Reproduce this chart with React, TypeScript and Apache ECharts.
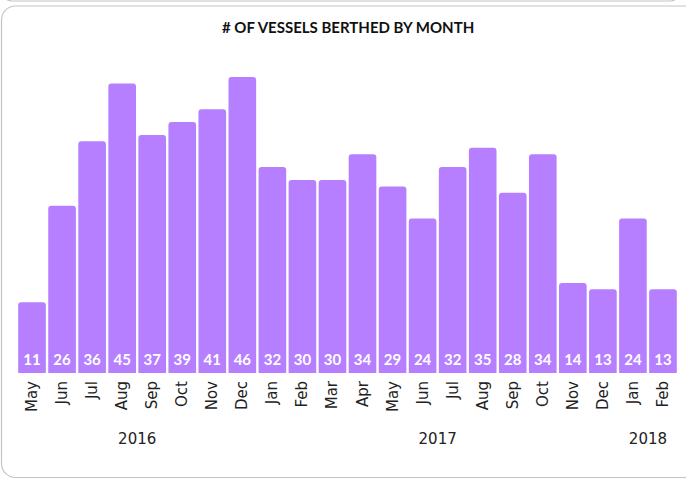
import React, { useEffect, useRef } from "react";
import * as echarts from "echarts";

const months = [
  "May", "Jun", "Jul", "Aug", "Sep", "Oct", "Nov", "Dec",
  "Jan", "Feb", "Mar", "Apr", "May", "Jun", "Jul", "Aug", "Sep", "Oct", "Nov", "Dec",
  "Jan", "Feb",
];
const vessels = [11, 26, 36, 45, 37, 39, 41, 46, 32, 30, 30, 34, 29, 24, 32, 35, 28, 34, 14, 13, 24, 13];
const years = ["2016", "2017", "2018"];
const monthsPerYear = [8, 12, 2];
const title = "# OF VESSELS BERTHED BY MONTH";

export default function App() {
  const ref = useRef<HTMLDivElement>(null);
  useEffect(() => {
    document.body.style.margin = "0";
    if (!ref.current) return;
    const chart = echarts.init(ref.current, null, { renderer: "svg" });

    const yearCenters: number[] = [];
    let start = 0;
    monthsPerYear.forEach((n) => {
      yearCenters.push(start + (n - 1) / 2);
      start += n;
    });
    const font = "Lato, 'Open Sans', sans-serif";
    const axisFont = "'DejaVu Sans', sans-serif";

    chart.setOption({
      animation: false,
      backgroundColor: "#ffffff",
      title: {
        text: title,
        left: 217,
        top: 14,
        textStyle: { fontSize: 15, fontWeight: "bold", color: "#111", fontFamily: font },
      },
      graphic: [
        {
          type: "rect",
          shape: { x: 2, y: -30, width: 678, height: 31, r: 10 },
          style: { fill: "none", stroke: "#c4c4c4", lineWidth: 1.2 },
        },
        {
          type: "rect",
          shape: { x: 1.5, y: 6, width: 700, height: 471.5, r: 14 },
          style: { fill: "none", stroke: "#c4c4c4", lineWidth: 1.2 },
        },
      ],
      grid: { left: 17, right: 8, top: 77, bottom: 106 },
      xAxis: [
        {
          type: "category",
          data: months,
          axisLine: { show: false },
          axisTick: { show: false },
          axisLabel: {
            rotate: 90,
            margin: 8,
            fontSize: 15,
            color: "#222",
            fontFamily: axisFont,
            interval: 0,
          },
        },
        {
          type: "value",
          position: "bottom",
          min: -0.5,
          max: months.length - 0.5,
          offset: 50,
          axisLine: { show: false },
          axisTick: { show: false },
          splitLine: { show: false },
          axisLabel: {
            customValues: yearCenters,
            margin: 8,
            fontSize: 15,
            color: "#222",
            fontFamily: axisFont,
            formatter: (v: number) => {
              const i = yearCenters.findIndex((c) => Math.abs(c - v) < 1e-6);
              return i >= 0 ? years[i] : "";
            },
          },
        },
      ],
      yAxis: {
        type: "value",
        min: 0,
        max: 46,
        show: false,
        splitLine: { show: false },
      },
      series: [
        {
          type: "bar",
          data: vessels,
          xAxisIndex: 0,
          barCategoryGap: "8%",
          itemStyle: { color: "#b57fff", borderRadius: [3, 3, 0, 0] },
          label: {
            show: true,
            position: "insideBottom",
            distance: 7,
            color: "#ffffff",
            fontWeight: "bold",
            fontSize: 15,
            fontFamily: font,
          },
        },
      ],
    });
    return () => chart.dispose();
  }, []);
  return <div ref={ref} style={{ width: 686, height: 479 }} />;
}
